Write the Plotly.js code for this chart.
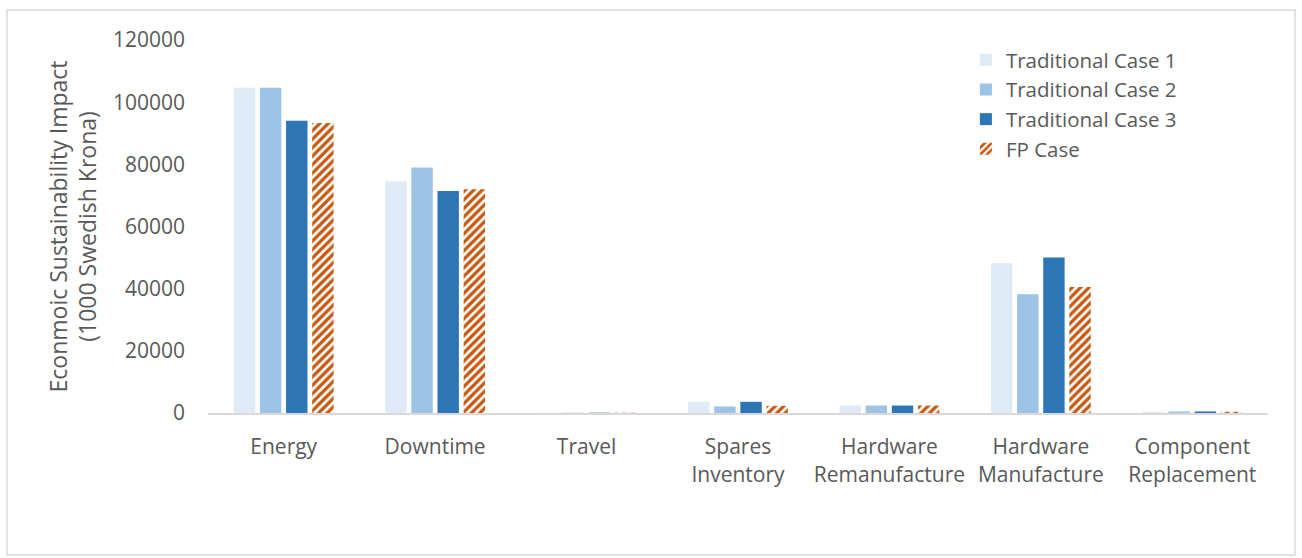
<!DOCTYPE html>
<html>
<head>
<meta charset="utf-8">
<script src="https://cdn.plot.ly/plotly-3.0.1.min.js"></script>
<style>html,body{margin:0;padding:0;background:#fff;}#chart{width:1302px;height:558px;}</style>
</head>
<body>
<div id="chart"></div>
<script>
const categories = ["Energy", "Downtime", "Travel", "Spares<br>Inventory", "Hardware<br>Remanufacture", "Hardware<br>Manufacture", "Component<br>Replacement"];
const seriesNames = ["Traditional Case 1", "Traditional Case 2", "Traditional Case 3", "FP Case"];
const tc1 = [104600, 74500, 100, 3600, 2400, 48200, 400];
const tc2 = [104600, 79000, 100, 2100, 2400, 38200, 500];
const tc3 = [94000, 71400, 100, 3600, 2400, 50000, 500];
const fp  = [93300, 72000, 100, 2300, 2400, 40500, 400];
const yTicks = [0, 20000, 40000, 60000, 80000, 100000, 120000];

const font = {family: "Open Sans, sans-serif", size: 21, color: "#595959"};
const legendFont = {family: "Open Sans, sans-serif", size: 20.5, color: "#595959"};
const titleFont = {family: "Open Sans, sans-serif", size: 23, color: "#595959"};
const colors = ["#DEEBF7", "#9DC3E6", "#2E75B6", "#C65911"];
const data = [tc1, tc2, tc3, fp].map((v, i) => {
  const t = {type: "bar", name: seriesNames[i], x: categories, y: v,
    marker: {color: colors[i], line: {width: 0}}};
  if (i === 3) {
    t.marker = {color: "#ffffff", line: {width: 0},
      pattern: {shape: "/", fgcolor: colors[3], bgcolor: "#ffffff", size: 6, solidity: 0.55, fillmode: "replace"}};
  }
  return t;
});

const layout = {
  width: 1302, height: 558,
  margin: {l: 208, r: 34, t: 40, b: 145},
  paper_bgcolor: "#ffffff", plot_bgcolor: "#ffffff",
  font: font,
  barmode: "group", bargap: 0.31, bargroupgap: 0.18,
  showlegend: true,
  legend: {x: 0.715, y: 1.0, xanchor: "left", yanchor: "top", font: legendFont, tracegroupgap: 0, itemwidth: 30, bgcolor: "rgba(0,0,0,0)"},
  xaxis: {type: "category", showline: true, linecolor: "#D9D9D9", linewidth: 2, ticks: "", tickfont: font, showgrid: false, zeroline: false, ticklabelstandoff: 14},
  yaxis: {range: [0, 120000], tickvals: yTicks, ticktext: yTicks.map(String), showgrid: false, zeroline: false, showline: false, ticks: "", tickfont: font, ticklabelstandoff: 22,
    title: {text: "Econmoic Sustainability Impact<br>(1000 Swedish Krona)", font: titleFont, standoff: 9}},
  shapes: [{type: "rect", xref: "paper", yref: "paper", x0: -0.1896, x1: 1.0255, y0: -0.3807, y1: 1.0804, line: {color: "#D9D9D9", width: 1.5}, fillcolor: "rgba(0,0,0,0)", layer: "below"}]
};
Plotly.newPlot("chart", data, layout, {displayModeBar: false, staticPlot: true});
</script>
</body>
</html>
